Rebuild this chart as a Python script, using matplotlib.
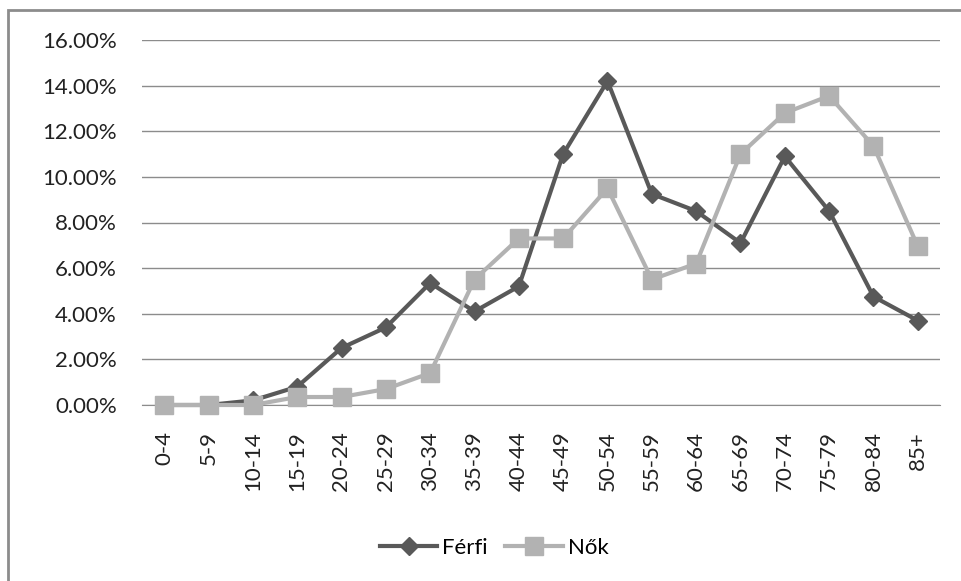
import matplotlib.pyplot as plt
from matplotlib.ticker import PercentFormatter
from matplotlib.patches import Rectangle

plt.rcParams['font.family'] = ['Lato', 'DejaVu Sans']

age_groups = ['0-4', '5-9', '10-14', '15-19', '20-24', '25-29', '30-34', '35-39',
              '40-44', '45-49', '50-54', '55-59', '60-64', '65-69', '70-74', '75-79',
              '80-84', '85+']
ferfi = [0.0, 0.0, 0.2, 0.8, 2.5, 3.4, 5.35, 4.1, 5.2, 11.0, 14.2, 9.25, 8.5, 7.1,
         10.9, 8.5, 4.75, 3.7]
nok = [0.0, 0.0, 0.0, 0.35, 0.35, 0.7, 1.4, 5.5, 7.3, 7.3, 9.5, 5.5, 6.2, 11.0,
       12.8, 13.55, 11.35, 6.95]

W, H = 961, 581
fig = plt.figure(figsize=(W / 100, H / 100), dpi=100)
ax = fig.add_axes([142 / W, 1 - 405 / H, (940 - 142) / W, (405 - 40) / H])

x = list(range(len(age_groups)))
l1, = ax.plot(x, ferfi, color='#595959', lw=3, marker='D', ms=9, label='Férfi',
              zorder=2, clip_on=False)
l2, = ax.plot(x, nok, color='#b2b2b2', lw=3, marker='s', ms=13, label='Nők',
              zorder=3, clip_on=False)

ax.set_xlim(-0.5, len(age_groups) - 0.5)
ax.set_ylim(0, 16)
ax.set_yticks(range(0, 17, 2))
ax.yaxis.set_major_formatter(PercentFormatter(decimals=2))
ax.set_xticks(x)
ax.set_xticklabels(age_groups, rotation=90)
ax.grid(axis='y', color='#8c8c8c', lw=1)
ax.set_axisbelow(True)
for s in ['top', 'right', 'left']:
    ax.spines[s].set_visible(False)
ax.spines['bottom'].set_color('#8c8c8c')
ax.spines['bottom'].set_zorder(0.5)
ax.tick_params(axis='both', length=0, labelsize=16, colors='#222222')
ax.tick_params(axis='y', pad=18)
ax.tick_params(axis='x', pad=19)

fig.legend(handles=[l1, l2], loc='center', bbox_to_anchor=(494 / W, 1 - 548 / H),
           ncol=2, frameon=False, fontsize=16, handlelength=2.6, columnspacing=0.8,
           handletextpad=0.2)

fig.patches.append(Rectangle((8 / W, -0.01), 2, 1 - 10 / H + 0.01, transform=fig.transFigure,
                             fill=False, ec='#8c8c8c', lw=2))

fig.savefig('out.png', dpi=100)
